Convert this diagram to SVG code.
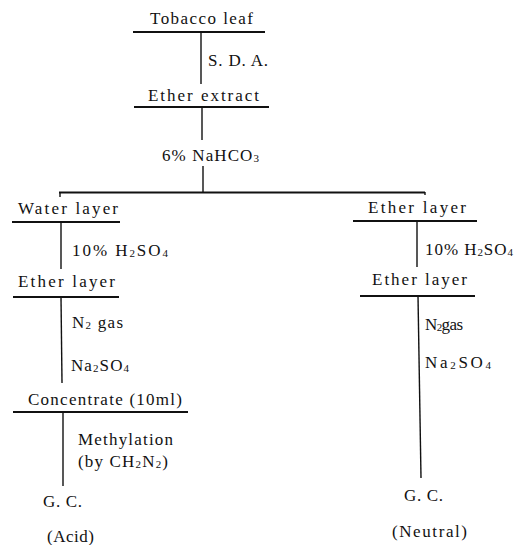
<svg xmlns="http://www.w3.org/2000/svg" width="529" height="545" viewBox="0 0 529 545">
<style>
text{font-family:"Liberation Serif","Times New Roman",serif;font-size:17px;fill:#111}
.s{font-size:11px}
line{stroke:#111;stroke-width:1.4;fill:none}
.u{stroke-width:1.8}
</style>
<rect width="529" height="545" fill="#fff"/>
<g id="connectors">
<line x1="201" y1="32" x2="201" y2="84"/>
<line x1="202" y1="107" x2="202" y2="140"/>
<line x1="203" y1="166" x2="203" y2="192"/>
<line class="u" x1="59" y1="192.5" x2="425" y2="192.5"/>
<line x1="60" y1="192" x2="60" y2="197"/>
<line x1="425" y1="192" x2="425" y2="195"/>
<line x1="61" y1="222" x2="61" y2="269"/>
<line x1="61" y1="297" x2="62" y2="383"/>
<line x1="63" y1="412" x2="63" y2="486"/>
<line x1="417" y1="221" x2="417" y2="267"/>
<line x1="418" y1="296" x2="421" y2="478"/>
<text x="208" y="66" textLength="60" lengthAdjust="spacing">S. D. A.</text>
<text x="162" y="161" textLength="97" lengthAdjust="spacing">6% NaHCO<tspan class="s" dy="1">3</tspan></text>
<text x="72" y="256" textLength="96" lengthAdjust="spacing">10% H<tspan class="s" dy="1">2</tspan><tspan dy="-1">SO</tspan><tspan class="s" dy="1">4</tspan></text>
<text x="72" y="328" textLength="51" lengthAdjust="spacing">N<tspan class="s" dy="1">2</tspan><tspan dy="-1"> gas</tspan></text>
<text x="71" y="371" textLength="58" lengthAdjust="spacing">Na<tspan class="s" dy="1">2</tspan><tspan dy="-1">SO</tspan><tspan class="s" dy="1">4</tspan></text>
<text x="78" y="445" textLength="95" lengthAdjust="spacing">Methylation</text>
<text x="78" y="467" textLength="90" lengthAdjust="spacing">(by CH<tspan class="s" dy="1">2</tspan><tspan dy="-1">N</tspan><tspan class="s" dy="1">2</tspan><tspan dy="-1">)</tspan></text>
<text x="425" y="255" textLength="88" lengthAdjust="spacing">10% H<tspan class="s" dy="1">2</tspan><tspan dy="-1">SO</tspan><tspan class="s" dy="1">4</tspan></text>
<text x="425" y="330" textLength="38" lengthAdjust="spacing">N<tspan class="s" dy="1">2</tspan><tspan dy="-1">gas</tspan></text>
<text x="425" y="368" textLength="66" lengthAdjust="spacing">Na<tspan class="s" dy="1">2</tspan><tspan dy="-1">SO</tspan><tspan class="s" dy="1">4</tspan></text>
</g>
<g id="tobacco-leaf">
<text x="150" y="24" textLength="103" lengthAdjust="spacing">Tobacco leaf</text>
<line class="u" x1="133" y1="32" x2="265" y2="32"/>
</g>
<g id="ether-extract">
<text x="148" y="101" textLength="111" lengthAdjust="spacing">Ether extract</text>
<line class="u" x1="134" y1="107" x2="269" y2="107"/>
</g>
<g id="water-layer">
<text x="18" y="214" textLength="100" lengthAdjust="spacing">Water layer</text>
<line class="u" x1="12" y1="222" x2="120" y2="222"/>
</g>
<g id="ether-layer-left">
<text x="18" y="287" textLength="97" lengthAdjust="spacing">Ether layer</text>
<line class="u" x1="13" y1="297" x2="119" y2="297"/>
</g>
<g id="concentrate">
<text x="28" y="405" textLength="154" lengthAdjust="spacing">Concentrate (10ml)</text>
<line class="u" x1="13" y1="412" x2="188" y2="412"/>
</g>
<g id="gc-acid">
<text x="43" y="507" textLength="39" lengthAdjust="spacing">G. C.</text>
<text x="47" y="542" textLength="47" lengthAdjust="spacing">(Acid)</text>
</g>
<g id="ether-layer-right">
<text x="368" y="213" textLength="98" lengthAdjust="spacing">Ether layer</text>
<line class="u" x1="353" y1="221" x2="477" y2="221"/>
</g>
<g id="ether-layer-right-2">
<text x="372" y="285" textLength="95" lengthAdjust="spacing">Ether layer</text>
<line class="u" x1="360" y1="296" x2="475" y2="296"/>
</g>
<g id="gc-neutral">
<text x="404" y="501" textLength="39" lengthAdjust="spacing">G. C.</text>
<text x="392" y="537" textLength="75" lengthAdjust="spacing">(Neutral)</text>
</g>
</svg>
